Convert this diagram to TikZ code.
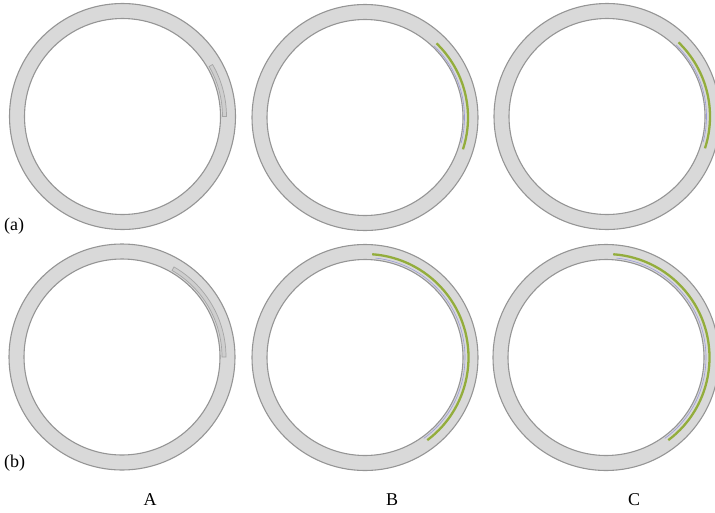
\documentclass[tikz,border=0pt]{standalone}
\usepackage{fontspec}
\setmainfont{Liberation Serif}
\begin{document}
\begin{tikzpicture}[x=1pt,y=-1pt,
  ringfill/.style={fill=ringgrey},
  ringline/.style={draw=ringedge,line width=1.1pt},
  stripe/.style={fill=stripegrey,draw=stripeedge,line width=0.7pt},
  greenarc/.style={draw=arcgreen,line width=2.3pt},
  bluearc/.style={draw=arcblue,line width=0.6pt},
  lbl/.style={font=\fontsize{18}{21}\selectfont,inner sep=0pt}]
\definecolor{ringgrey}{HTML}{D9D9D9}
\definecolor{ringedge}{HTML}{959595}
\definecolor{stripegrey}{HTML}{CECECE}
\definecolor{stripeedge}{HTML}{A6A6A6}
\definecolor{arcgreen}{HTML}{93AD3C}
\definecolor{arcblue}{HTML}{9A9AD8}
\useasboundingbox (0,0) rectangle (715,512);
% ring centres
\coordinate (aA) at (122.5,116.5);
\coordinate (aB) at (365,117.5);
\coordinate (aC) at (607,116.5);
\coordinate (bA) at (122,357);
\coordinate (bB) at (365,357.5);
\coordinate (bC) at (606,357.5);
\foreach \c in {aA,aB,aC,bA,bB,bC}{
  \fill[ringfill,even odd rule] (\c) circle[radius=113] (\c) circle[radius=98];
  \draw[ringline] (\c) circle[radius=113];
  \draw[ringline] (\c) circle[radius=98];
}
% grey stripes in column A (y axis points down: angle sign flipped)
\draw[stripe] ([shift={(0:104)}]aA) arc[start angle=0,end angle=-30,radius=104]
  -- ([shift={(-30:100)}]aA) arc[start angle=-30,end angle=0,radius=100] -- cycle;
\draw[stripe] ([shift={(0:104)}]bA) arc[start angle=0,end angle=-60,radius=104]
  -- ([shift={(-60:100)}]bA) arc[start angle=-60,end angle=0,radius=100] -- cycle;
% coloured arcs in columns B and C
\foreach \c in {aB,aC}{
  \draw[bluearc] ([shift={(15:99.5)}]\c) arc[start angle=15,end angle=-46,radius=99.5];
  \draw[greenarc] ([shift={(18:103)}]\c) arc[start angle=18,end angle=-46,radius=103];
}
\foreach \c in {bB,bC}{
  \draw[bluearc] ([shift={(54:100)}]\c) arc[start angle=54,end angle=-84,radius=100];
  \draw[greenarc] ([shift={(53:103.5)}]\c) arc[start angle=53,end angle=-86,radius=103.5];
}
% labels
\node[lbl,anchor=west] (la) at (4,226) {(a)};
\node[lbl,anchor=west] (lb) at (4,463) {(b)};
\node[lbl] (cA) at (150,500) {A};
\node[lbl] (cB) at (392,500) {B};
\node[lbl] (cC) at (634,500) {C};
\end{tikzpicture}
\end{document}
